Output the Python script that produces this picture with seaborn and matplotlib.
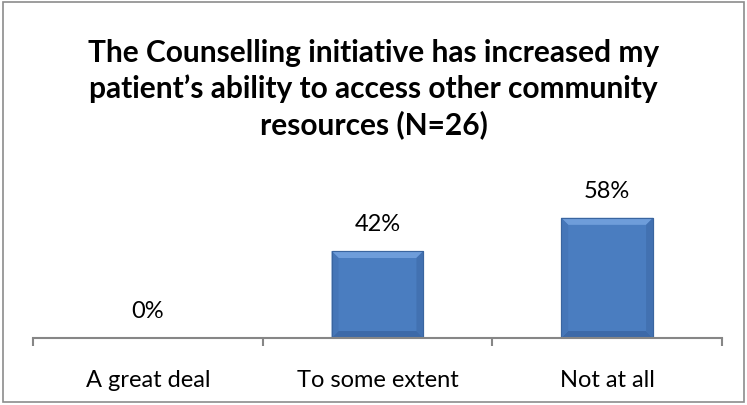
import matplotlib
matplotlib.use("Agg")
import matplotlib.pyplot as plt
import seaborn as sns
import pandas as pd
from matplotlib.patches import Rectangle, Polygon

categories = ["A great deal", "To some extent", "Not at all"]
shares = [0.0, 0.42, 0.58]
value_labels = ["0%", "42%", "58%"]
title_text = ("The Counselling initiative has increased my\n"
              "patient\u2019s ability to access other community\n"
              "resources (N=26)")

sns.set_theme(style="white")
plt.rcParams["font.family"] = ["Lato", "DejaVu Sans"]

df = pd.DataFrame({"category": categories, "share": shares})

W, H = 747, 406
fig = plt.figure(figsize=(W / 100, H / 100), dpi=100)
ax_left, ax_bottom, ax_w, ax_h = 33, 339, 689, 145
ax = fig.add_axes([ax_left / W, 1 - ax_bottom / H, ax_w / W, ax_h / H])

sns.barplot(data=df, x="category", y="share", ax=ax, color="#4A7DC0",
            width=0.4, edgecolor="#3A659F", linewidth=0.8, saturation=1)

xmin, xmax, ymin, ymax = -0.5, 2.5, 0.0, 0.70
ax.set_xlim(xmin, xmax)
ax.set_ylim(ymin, ymax)
ax.set_xlabel("")
ax.set_ylabel("")
ax.set_yticks([])
for side in ("left", "right", "top"):
    ax.spines[side].set_visible(False)
ax.spines["bottom"].set_color("#868686")
ax.spines["bottom"].set_linewidth(1.5)
ax.spines["bottom"].set_zorder(5)

ax.set_xticks([0, 1, 2])
ax.set_xticklabels(categories, fontsize=17, color="#000000")
ax.tick_params(axis="x", which="major", length=0, pad=22)
ax.set_xticks([-0.5, 0.5, 1.5, 2.5], minor=True)
ax.tick_params(axis="x", which="minor", length=6, width=1.5, color="#868686",
               direction="out", bottom=True)

# bevelled faces on each bar
px_x = (xmax - xmin) / ax_w
px_y = (ymax - ymin) / ax_h
bev = 7
for bar in list(ax.patches):
    x0, y0 = bar.get_x(), bar.get_y()
    w, h = bar.get_width(), bar.get_height()
    if h <= 0:
        continue
    bx, by = bev * px_x, min(bev * px_y, h / 2)
    x1, y1 = x0 + w, y0 + h
    faces = [
        ([(x0, y1), (x1, y1), (x1 - bx, y1 - by), (x0 + bx, y1 - by)], "#6E9DDA"),
        ([(x0, y0), (x1, y0), (x1 - bx, y0 + by), (x0 + bx, y0 + by)], "#3C69A8"),
        ([(x0, y0), (x0 + bx, y0 + by), (x0 + bx, y1 - by), (x0, y1)], "#4576B8"),
        ([(x1, y0), (x1 - bx, y0 + by), (x1 - bx, y1 - by), (x1, y1)], "#4271B1"),
    ]
    for pts, col in faces:
        ax.add_patch(Polygon(pts, closed=True, facecolor=col, edgecolor="none",
                             zorder=bar.get_zorder() + 0.1))
    ax.add_patch(Rectangle((x0, y0), w, h, fill=False, edgecolor="#3A659F",
                           linewidth=0.8, zorder=bar.get_zorder() + 0.2))

for i, (v, lab) in enumerate(zip(shares, value_labels)):
    ax.annotate(lab, xy=(i, v), xytext=(0, 19.5), textcoords="offset points",
                ha="center", va="center", fontsize=17, color="#000000")

fig.text(0.5, 1 - 89 / H, title_text, ha="center", va="center",
         fontsize=21.5, fontweight="bold", linespacing=1.3, color="#000000")

fig.patches.append(Rectangle((3 / W, 3 / H), 741 / W, 400 / H,
                             transform=fig.transFigure, fill=False,
                             edgecolor="#8C8C8C", linewidth=1.2))

fig.savefig("out.png", dpi=100)
